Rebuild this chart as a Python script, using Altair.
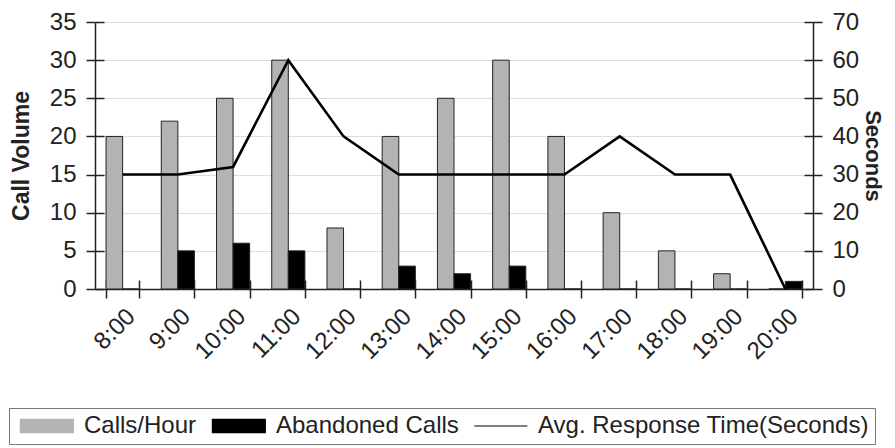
import altair as alt
import pandas as pd

hours = ["8:00", "9:00", "10:00", "11:00", "12:00", "13:00", "14:00",
         "15:00", "16:00", "17:00", "18:00", "19:00", "20:00"]
calls_per_hour = [20, 22, 25, 30, 8, 20, 25, 30, 20, 10, 5, 2, 0]
abandoned_calls = [0, 5, 6, 5, 0, 3, 2, 3, 0, 0, 0, 0, 1]
response_seconds = [30, 30, 32, 60, 40, 30, 30, 30, 30, 40, 30, 30, 0]
series_names = ["Calls/Hour", "Abandoned Calls", "Avg. Response Time(Seconds)"]
series_colors = ["#b3b3b3", "#000000", "#000000"]
left_ticks = [0, 5, 10, 15, 20, 25, 30, 35]
right_ticks = [0, 10, 20, 30, 40, 50, 60, 70]

FONT = "Liberation Sans"
INK = "#222222"

bars_df = pd.DataFrame({
    "hour": hours * 2,
    "series": [series_names[0]] * len(hours) + [series_names[1]] * len(hours),
    "value": calls_per_hour + abandoned_calls,
})
line_df = pd.DataFrame({
    "hour": hours,
    "series": [series_names[2]] * len(hours),
    "seconds": response_seconds,
})

x_scale = alt.Scale(domain=hours, paddingInner=0.4, paddingOuter=0.2)
color_scale = alt.Scale(domain=series_names, range=series_colors)

legend = alt.Legend(
    title=None, orient="none", direction="horizontal",
    legendX=-86, legendY=386,
    labelFont=FONT, labelFontSize=24, labelColor=INK, labelLimit=0,
    symbolType=alt.ExprRef(
        "datum.value === 'Avg. Response Time(Seconds)' ? 'M-1,0L7,0' : 'M-1,-1L7,-1L7,1L-1,1Z'"
    ),
    symbolSize=175, symbolStrokeWidth=1.2, labelOffset=45,
    columnPadding=10, padding=6, strokeColor="#777777",
)

x_main = alt.X(
    "hour:N", sort=hours, scale=x_scale,
    axis=alt.Axis(orient="bottom", title=None, labelAngle=315, labelFontSize=24,
                  labelColor=INK, tickBand="extent", tickSize=9, labelPadding=6,
                  domainColor=INK, tickColor=INK, domainWidth=1.5, tickWidth=1.5),
)
x_none = alt.X("hour:N", sort=hours, scale=x_scale, axis=None)
x_inner = alt.X(
    "hour:N", sort=hours, scale=x_scale,
    axis=alt.Axis(orient="bottom", offset=-9, tickSize=9, labels=False, domain=False,
                  title=None, tickBand="extent", tickColor=INK, tickWidth=1.5),
)

bars = alt.Chart(bars_df).mark_bar(stroke=INK, strokeWidth=1).encode(
    x=x_main,
    xOffset=alt.XOffset("series:N", sort=series_names[:2]),
    y=alt.Y("value:Q", scale=alt.Scale(domain=[0, 35], nice=False),
            axis=alt.Axis(orient="left", values=left_ticks, title="Call Volume",
                          titleFontSize=23, titleFontWeight="bold", titleColor=INK,
                          labelFontSize=24, labelColor=INK, tickSize=9, labelPadding=10,
                          titlePadding=16, domainColor=INK, tickColor=INK,
                          domainWidth=1.5, tickWidth=1.5)),
    color=alt.Color("series:N", scale=color_scale, legend=legend),
)

left_inner = alt.Chart(bars_df).mark_point(opacity=0).encode(
    x=x_inner,
    y=alt.Y("value:Q", scale=alt.Scale(domain=[0, 35], nice=False),
            axis=alt.Axis(orient="left", offset=-9, values=left_ticks, tickSize=9,
                          labels=False, domain=False, title=None,
                          tickColor=INK, tickWidth=1.5)),
)

line = alt.Chart(line_df).mark_line(strokeWidth=2.6).encode(
    x=x_none,
    y=alt.Y("seconds:Q", scale=alt.Scale(domain=[0, 70], nice=False),
            axis=alt.Axis(orient="right", values=right_ticks, title="Seconds",
                          titleFontSize=22, titleFontWeight="bold", titleColor=INK,
                          labelFontSize=24, labelColor=INK, tickSize=9, labelPadding=10,
                          titlePadding=2, domainColor=INK, tickColor=INK,
                          domainWidth=1.5, tickWidth=1.5)),
    color=alt.Color("series:N", scale=color_scale, legend=legend),
)

right_inner = alt.Chart(line_df).mark_point(opacity=0).encode(
    x=x_none,
    y=alt.Y("seconds:Q", scale=alt.Scale(domain=[0, 70], nice=False),
            axis=alt.Axis(orient="right", offset=-9, values=right_ticks, tickSize=9,
                          labels=False, domain=False, title=None,
                          tickColor=INK, tickWidth=1.5)),
)

chart = alt.layer(bars, left_inner, line, right_inner).resolve_scale(
    y="independent"
).resolve_axis(
    x="independent", y="independent"
).properties(
    width=718, height=267,
    padding={"left": 0, "top": 2, "right": 2, "bottom": 0},
).configure_axis(
    labelFont=FONT, titleFont=FONT, grid=False,
).configure_view(stroke=None).configure(background="white")

chart.save("out.html", embed_options={"renderer": "svg", "actions": False})
